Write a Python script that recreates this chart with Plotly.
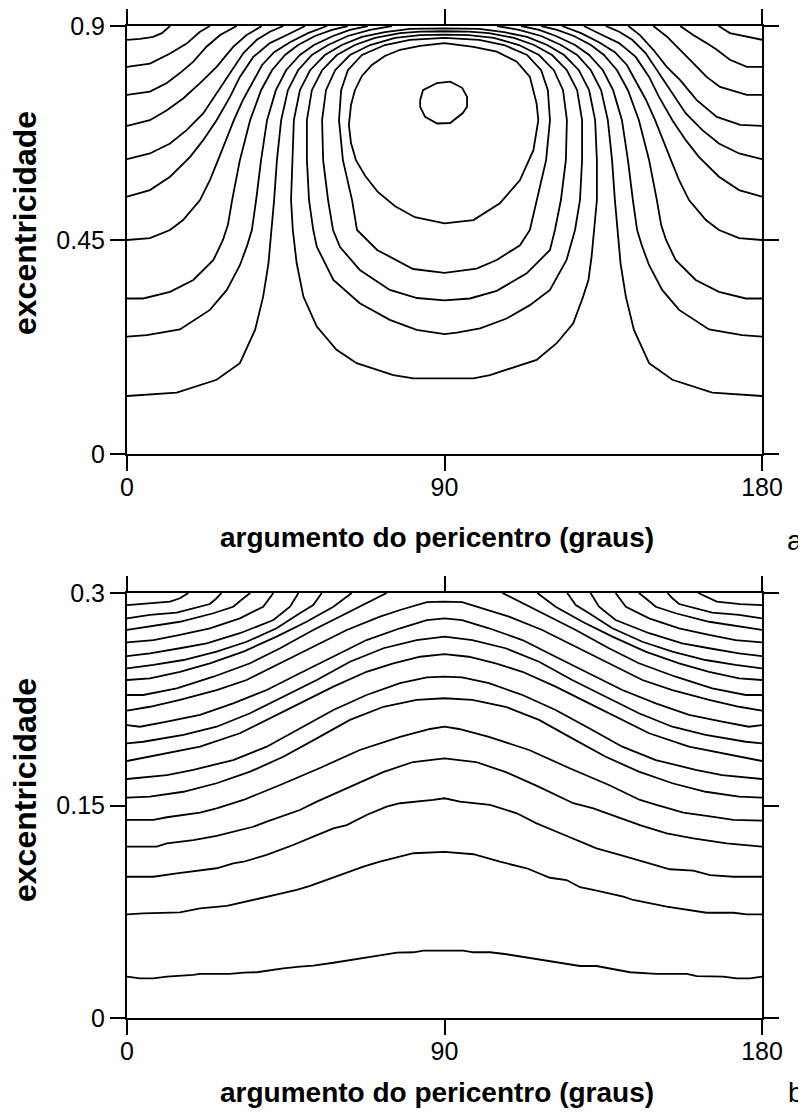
import plotly.graph_objects as go

# ================= Panel a  (x: argumento do pericentro [graus], e: excentricidade) =================
# open lines entering from the left axis and leaving through the top edge
a_l1_x = [0, 3.7, 7.4, 9.9, 12.2]
a_l1_e = [0.871, 0.873, 0.877, 0.885, 0.9]
a_l2_x = [0, 6.5, 12.2, 16.9, 20.7, 23.5]
a_l2_e = [0.814, 0.821, 0.842, 0.863, 0.888, 0.9]
a_l3_x = [0, 6.5, 11.3, 15.0, 18.8, 22.6, 26.4, 31.1]
a_l3_e = [0.755, 0.762, 0.780, 0.801, 0.825, 0.857, 0.881, 0.9]
a_l4_x = [0, 6.5, 11.3, 16.0, 20.7, 25.4, 30.1, 33.9, 38.2]
a_l4_e = [0.690, 0.702, 0.723, 0.748, 0.780, 0.814, 0.856, 0.881, 0.9]
a_l5_x = [0, 6.5, 12.2, 16.9, 21.6, 25.4, 29.2, 33.0, 36.8, 40.5, 44.3]
a_l5_e = [0.620, 0.632, 0.653, 0.681, 0.716, 0.759, 0.801, 0.843, 0.871, 0.888, 0.9]
a_l6_x = [0, 6.5, 12.2, 17.9, 21.6, 25.4, 29.2, 32.0, 35.8, 40.5, 45.3, 50.5]
a_l6_e = [0.541, 0.555, 0.583, 0.625, 0.660, 0.702, 0.751, 0.793, 0.835, 0.864, 0.881, 0.9]
a_l7_x = [0, 6.5, 12.2, 15.9, 20.7, 23.5, 25.8, 28.1, 30.3, 32.9, 36.0, 38.3, 41.7, 46.2, 51.3, 56.7]
a_l7_e = [0.450, 0.454, 0.471, 0.492, 0.534, 0.576, 0.618, 0.660, 0.702, 0.745, 0.786, 0.818, 0.845, 0.866, 0.885, 0.9]
a_l8_x = [0, 4.6, 12.2, 18.8, 24.5, 27.2, 28.6, 29.8, 32.0, 34.9, 38.0, 41.1, 44.8, 48.5, 53.3, 58.1, 62.6]
a_l8_e = [0.327, 0.327, 0.341, 0.366, 0.408, 0.450, 0.482, 0.534, 0.618, 0.702, 0.765, 0.807, 0.839, 0.860, 0.879, 0.892, 0.9]
a_l9_x = [0, 5.6, 15.0, 23.5, 28.3, 32.0, 34.0, 35.4, 36.6, 38.0, 39.7, 42.2, 45.1, 49.0, 53.0, 58.4, 63.2, 68.3]
a_l9_e = [0.247, 0.250, 0.262, 0.303, 0.345, 0.397, 0.437, 0.471, 0.534, 0.618, 0.702, 0.765, 0.807, 0.839, 0.860, 0.879, 0.892, 0.9]
a_l10_x = [0, 14.1, 25.4, 32.0, 36.3, 38.6, 40.1, 41.0, 41.7, 42.5, 43.7, 45.6, 48.5, 52.4, 57.0, 62.6, 68.9, 75.1]
a_l10_e = [0.122, 0.129, 0.156, 0.191, 0.261, 0.331, 0.401, 0.471, 0.534, 0.618, 0.702, 0.765, 0.807, 0.839, 0.860, 0.879, 0.892, 0.9]

# open lines entering from the right axis and leaving through the top edge
a_r1_x = [180, 175.7, 170.9, 167.7]
a_r1_e = [0.871, 0.877, 0.885, 0.9]
a_r2_x = [180, 175.7, 170.9, 167.2, 164.3, 160.5, 156.8]
a_r2_e = [0.814, 0.814, 0.829, 0.850, 0.864, 0.881, 0.9]
a_r3_x = [180, 175.7, 168.1, 164.3, 160.5, 156.8, 153.0, 149.2]
a_r3_e = [0.755, 0.755, 0.772, 0.793, 0.822, 0.850, 0.878, 0.9]
a_r4_x = [180, 173.8, 167.2, 161.5, 156.8, 153.0, 149.2, 145.4, 142.1]
a_r4_e = [0.690, 0.692, 0.709, 0.744, 0.786, 0.814, 0.850, 0.881, 0.9]
a_r5_x = [180, 173.5, 167.8, 163.1, 158.4, 154.6, 150.8, 147.0, 143.2, 139.5, 135.7]
a_r5_e = [0.620, 0.632, 0.653, 0.681, 0.716, 0.759, 0.801, 0.843, 0.871, 0.888, 0.9]
a_r6_x = [180, 173.5, 167.8, 162.1, 158.4, 154.6, 150.8, 148.0, 144.2, 139.5, 134.7, 129.5]
a_r6_e = [0.541, 0.555, 0.583, 0.625, 0.660, 0.702, 0.751, 0.793, 0.835, 0.864, 0.881, 0.9]
a_r7_x = [180, 173.5, 167.8, 164.1, 159.3, 156.5, 154.2, 151.9, 149.7, 147.1, 144.0, 141.7, 138.3, 133.8, 128.7, 123.3]
a_r7_e = [0.450, 0.454, 0.471, 0.492, 0.534, 0.576, 0.618, 0.660, 0.702, 0.745, 0.786, 0.818, 0.845, 0.866, 0.885, 0.9]
a_r8_x = [180, 175.4, 167.8, 161.2, 155.5, 152.8, 151.4, 150.2, 148.0, 145.1, 142.0, 138.9, 135.2, 131.5, 126.7, 121.9, 117.4]
a_r8_e = [0.327, 0.327, 0.341, 0.366, 0.408, 0.450, 0.482, 0.534, 0.618, 0.702, 0.765, 0.807, 0.839, 0.860, 0.879, 0.892, 0.9]
a_r9_x = [180, 174.4, 165.0, 156.5, 151.7, 148.0, 146.0, 144.6, 143.4, 142.0, 140.3, 137.8, 134.9, 131.0, 127.0, 121.6, 116.8, 111.7]
a_r9_e = [0.247, 0.250, 0.262, 0.303, 0.345, 0.397, 0.437, 0.471, 0.534, 0.618, 0.702, 0.765, 0.807, 0.839, 0.860, 0.879, 0.892, 0.9]
a_r10_x = [180, 165.9, 154.6, 148.0, 143.7, 141.4, 139.9, 139.0, 138.3, 137.5, 136.3, 134.4, 131.5, 127.6, 123.0, 117.4, 111.1, 104.9]
a_r10_e = [0.122, 0.129, 0.156, 0.191, 0.261, 0.331, 0.401, 0.471, 0.534, 0.618, 0.702, 0.765, 0.807, 0.839, 0.860, 0.879, 0.892, 0.9]

# closed curves around the central maximum (outermost first)
a_c1_x = [90, 80.2, 73.1, 66.6, 60.9, 56.1, 51.9, 49.0, 47.3, 46.8, 46.5, 47.0, 48.1, 50.0, 53.8, 59.4, 65.1, 75.5, 81.2,
          90, 98.2, 102.9, 110.5, 116.1, 121.8, 126.5, 129.3, 130.8, 131.7, 132.4, 133.2, 133.2, 132.7, 131.0, 128.1,
          123.9, 119.1, 113.4, 106.9, 99.8, 90]
a_c1_e = [0.895, 0.894, 0.887, 0.877, 0.860, 0.839, 0.807, 0.765, 0.702, 0.618, 0.534, 0.471, 0.401, 0.331, 0.268, 0.219,
          0.191, 0.166, 0.159, 0.159, 0.159, 0.166, 0.184, 0.198, 0.233, 0.275, 0.331, 0.366, 0.415, 0.471, 0.534,
          0.618, 0.702, 0.765, 0.807, 0.839, 0.860, 0.877, 0.887, 0.894, 0.895]
a_c2_x = [90, 83.1, 77.4, 70.3, 64.6, 59.5, 55.3, 52.4, 51.0, 51.0, 51.6, 52.8, 53.8, 58.5, 66.0, 74.5, 82.1,
          90, 93.5, 100.1, 107.6, 114.2, 119.9, 124.6, 127.0, 128.4, 129.0, 129.0, 127.6, 124.7, 120.5, 115.4,
          109.7, 102.6, 96.9, 90]
a_c2_e = [0.889, 0.888, 0.885, 0.875, 0.860, 0.839, 0.807, 0.765, 0.702, 0.618, 0.534, 0.471, 0.436, 0.366, 0.317,
          0.282, 0.261, 0.252, 0.255, 0.264, 0.285, 0.313, 0.345, 0.408, 0.471, 0.534, 0.618, 0.702, 0.765, 0.807,
          0.839, 0.860, 0.875, 0.885, 0.888, 0.889]
a_c3_x = [90, 83.1, 76.0, 68.9, 63.2, 59.0, 56.4, 55.3, 55.6, 57.0, 58.4, 60.4, 66.0, 74.5, 82.2,
          90, 97.2, 104.8, 113.3, 119.9, 121.3, 123.0, 124.4, 124.7, 123.6, 121.0, 116.8, 111.1, 104.0, 96.9, 90]
a_c3_e = [0.882, 0.881, 0.875, 0.860, 0.839, 0.807, 0.765, 0.702, 0.618, 0.534, 0.471, 0.435, 0.387, 0.345, 0.328,
          0.323, 0.327, 0.343, 0.380, 0.429, 0.471, 0.534, 0.618, 0.702, 0.765, 0.807, 0.839, 0.860, 0.875, 0.881, 0.882]
a_c4_x = [90, 80.2, 73.1, 66.6, 62.6, 60.7, 60.1, 61.2, 63.8, 65.2, 70.9, 81.1,
          90, 99.1, 104.8, 111.4, 114.2, 116.2, 118.8, 119.9, 119.3, 117.4, 113.4, 106.9, 99.8, 90]
a_c4_e = [0.875, 0.871, 0.860, 0.839, 0.807, 0.765, 0.702, 0.618, 0.534, 0.471, 0.429, 0.389,
          0.381, 0.390, 0.408, 0.439, 0.471, 0.534, 0.618, 0.702, 0.765, 0.807, 0.839, 0.860, 0.871, 0.875]
a_c5_x = [90, 83.1, 77.4, 73.1, 69.4, 66.6, 64.6, 63.5, 62.9, 63.5, 64.9, 67.5, 71.1, 76.0, 81.6,
          90, 98.2, 105.7, 111.4, 115.2, 116.6, 116.1, 114.2, 110.5, 104.8, 98.2, 90]
a_c5_e = [0.864, 0.858, 0.850, 0.837, 0.818, 0.795, 0.765, 0.734, 0.692, 0.654, 0.618, 0.585, 0.551, 0.521, 0.498,
          0.485, 0.492, 0.527, 0.576, 0.639, 0.702, 0.737, 0.793, 0.825, 0.846, 0.856, 0.864]
a_c6_x = [83.1, 83.9, 87.9, 91.6, 95.0, 96.4, 96.4, 95.2, 91.6, 87.9, 84.5, 83.1, 83.1]
a_c6_e = [0.744, 0.765, 0.780, 0.783, 0.770, 0.751, 0.730, 0.717, 0.696, 0.695, 0.709, 0.730, 0.744]

# ================= Panel b =================
# lines leaving through the top edge (left side)
b_t1_x = [0, 6.5, 12.2, 15.0, 17.4]
b_t1_e = [0.2915, 0.2927, 0.2939, 0.2963, 0.3]
b_t2_x = [0, 6.5, 14.1, 18.8, 23.5, 25.4, 26.8]
b_t2_e = [0.2821, 0.2845, 0.2861, 0.2892, 0.2922, 0.2963, 0.3]
b_t3_x = [0, 6.5, 15.0, 24.5, 30.1, 33.0, 34.9]
b_t3_e = [0.2739, 0.2762, 0.2797, 0.2857, 0.2903, 0.2963, 0.3]
b_t4_x = [0, 7.5, 15.0, 23.5, 32.0, 38.6, 41.5]
b_t4_e = [0.2652, 0.2668, 0.2704, 0.2751, 0.2821, 0.2903, 0.3]
b_t5_x = [0, 6.5, 15.0, 22.6, 32.0, 41.5, 46.2, 48.6]
b_t5_e = [0.2555, 0.2574, 0.2610, 0.2645, 0.2716, 0.2809, 0.2903, 0.3]
b_t6_x = [0, 7.5, 16.0, 25.4, 33.9, 42.4, 49.0, 52.8, 55.2]
b_t6_e = [0.2468, 0.2492, 0.2527, 0.2586, 0.2656, 0.2751, 0.2857, 0.2915, 0.3]
b_t7_x = [0, 6.5, 15.0, 23.5, 33.0, 42.4, 50.9, 58.5, 63.7]
b_t7_e = [0.2386, 0.2398, 0.2444, 0.2504, 0.2586, 0.2692, 0.2797, 0.2903, 0.3]
b_t8_x = [0, 4.6, 14.1, 24.5, 34.9, 43.4, 52.8, 62.3, 67.9, 73.6]
b_t8_e = [0.2280, 0.2280, 0.2327, 0.2409, 0.2504, 0.2610, 0.2739, 0.2857, 0.2927, 0.3]
# lines leaving through the top edge (right side)
b_u1_x = [180, 173.8, 167.2, 161.9]
b_u1_e = [0.2915, 0.2922, 0.2939, 0.3]
b_u2_x = [180, 173.5, 165.9, 161.2, 156.5, 154.6, 153.2]
b_u2_e = [0.2821, 0.2845, 0.2861, 0.2892, 0.2922, 0.2963, 0.3]
b_u3_x = [180, 173.5, 165.0, 155.5, 149.9, 147.0, 145.1]
b_u3_e = [0.2739, 0.2762, 0.2797, 0.2857, 0.2903, 0.2963, 0.3]
b_u4_x = [180, 172.5, 165.0, 156.5, 148.0, 141.4, 138.5]
b_u4_e = [0.2652, 0.2668, 0.2704, 0.2751, 0.2821, 0.2903, 0.3]
b_u5_x = [180, 173.5, 165.0, 157.4, 148.0, 138.5, 133.8, 131.4]
b_u5_e = [0.2555, 0.2574, 0.2610, 0.2645, 0.2716, 0.2809, 0.2903, 0.3]
b_u6_x = [180, 172.5, 164.0, 154.6, 146.1, 137.6, 131.0, 127.2, 124.8]
b_u6_e = [0.2468, 0.2492, 0.2527, 0.2586, 0.2656, 0.2751, 0.2857, 0.2915, 0.3]
b_u7_x = [180, 173.5, 165.0, 156.5, 147.0, 137.6, 129.1, 121.5, 116.3]
b_u7_e = [0.2386, 0.2398, 0.2444, 0.2504, 0.2586, 0.2692, 0.2797, 0.2903, 0.3]
b_u8_x = [180, 175.4, 165.9, 155.5, 145.1, 136.6, 127.2, 117.7, 112.1, 106.4]
b_u8_e = [0.2280, 0.2280, 0.2327, 0.2409, 0.2504, 0.2610, 0.2739, 0.2857, 0.2927, 0.3]
# arches running from the left axis to the right axis (top to bottom)
b_a1_x = [0, 6.5, 15.0, 25.4, 33.9, 43.4, 52.8, 62.3, 71.7, 77.4, 85.0, 90, 95.0, 102.6, 108.3, 117.7, 127.2, 136.6, 146.1, 154.6, 165.0, 173.5, 180]
b_a1_e = [0.2169, 0.2197, 0.2245, 0.2315, 0.2386, 0.2504, 0.2621, 0.2739, 0.2833, 0.2880, 0.2936, 0.2939, 0.2936, 0.2880, 0.2833, 0.2739, 0.2621, 0.2504, 0.2386, 0.2315, 0.2245, 0.2197, 0.2169]
b_a2_x = [0, 3.7, 11.3, 20.7, 30.1, 39.6, 49.0, 58.5, 67.9, 77.4, 85.0, 90, 95.0, 102.6, 112.1, 121.5, 131.0, 140.4, 149.9, 159.3, 168.7, 176.3, 180]
b_a2_e = [0.2068, 0.2056, 0.2092, 0.2139, 0.2221, 0.2315, 0.2433, 0.2550, 0.2668, 0.2751, 0.2809, 0.2821, 0.2809, 0.2751, 0.2668, 0.2550, 0.2433, 0.2315, 0.2221, 0.2139, 0.2092, 0.2056, 0.2068]
b_a3_x = [0, 4.6, 16.0, 25.4, 34.9, 44.3, 53.8, 63.2, 72.7, 82.1, 90, 97.9, 107.3, 116.8, 126.2, 135.7, 145.1, 154.6, 164.0, 175.4, 180]
b_a3_e = [0.1939, 0.1950, 0.1998, 0.2056, 0.2151, 0.2268, 0.2386, 0.2515, 0.2610, 0.2668, 0.2692, 0.2668, 0.2610, 0.2515, 0.2386, 0.2268, 0.2151, 0.2056, 0.1998, 0.1950, 0.1939]
b_a4_x = [0, 11.3, 20.7, 32.0, 39.6, 49.0, 58.5, 67.9, 75.5, 83.1, 90, 96.9, 104.5, 112.1, 121.5, 131.0, 140.4, 148.0, 159.3, 168.7, 180]
b_a4_e = [0.1814, 0.1868, 0.1915, 0.2010, 0.2104, 0.2221, 0.2339, 0.2444, 0.2504, 0.2550, 0.2569, 0.2550, 0.2504, 0.2444, 0.2339, 0.2221, 0.2104, 0.2010, 0.1915, 0.1868, 0.1814]
b_a5_x = [0, 11.3, 18.8, 30.1, 39.6, 49.0, 58.5, 67.9, 77.4, 85.0, 90, 95.0, 102.6, 112.1, 121.5, 131.0, 140.4, 149.9, 161.2, 168.7, 180]
b_a5_e = [0.1687, 0.1715, 0.1751, 0.1821, 0.1915, 0.2045, 0.2174, 0.2280, 0.2363, 0.2405, 0.2409, 0.2405, 0.2363, 0.2280, 0.2174, 0.2045, 0.1915, 0.1821, 0.1751, 0.1715, 0.1687]
b_a6_x = [0, 6.5, 16.0, 25.4, 34.9, 44.3, 53.8, 63.2, 72.7, 82.1, 90, 97.9, 107.3, 116.8, 126.2, 135.7, 145.1, 154.6, 164.0, 173.5, 180]
b_a6_e = [0.1555, 0.1562, 0.1597, 0.1657, 0.1739, 0.1844, 0.1974, 0.2104, 0.2197, 0.2245, 0.2257, 0.2245, 0.2197, 0.2104, 0.1974, 0.1844, 0.1739, 0.1657, 0.1597, 0.1562, 0.1555]
b_a7_x = [0, 7.5, 11.3, 20.7, 25.4, 33.0, 43.4, 54.7, 66.0, 77.4, 85.9, 90, 94.1, 102.6, 114.0, 125.3, 136.6, 145.4, 150.1, 157.7, 164.3, 171.9, 180]
b_a7_e = [0.1398, 0.1398, 0.1417, 0.1449, 0.1480, 0.1539, 0.1645, 0.1765, 0.1892, 0.1984, 0.2040, 0.2056, 0.2040, 0.1984, 0.1892, 0.1765, 0.1645, 0.1539, 0.1504, 0.1449, 0.1426, 0.1398, 0.1393]
b_a8_x = [0, 8.4, 11.3, 18.8, 25.4, 30.1, 35.8, 39.6, 45.3, 49.0, 53.8, 63.2, 72.6, 81.1, 90, 98.9, 107.4, 116.8, 124.6, 126.5, 132.2, 139.7, 145.4, 153.0, 160.5, 170.0, 180]
b_a8_e = [0.1209, 0.1209, 0.1233, 0.1256, 0.1285, 0.1315, 0.1350, 0.1386, 0.1433, 0.1468, 0.1527, 0.1631, 0.1736, 0.1807, 0.1833, 0.1807, 0.1736, 0.1631, 0.1539, 0.1516, 0.1480, 0.1410, 0.1362, 0.1304, 0.1268, 0.1233, 0.1209]
b_a9_x = [0, 7.5, 14.1, 19.8, 25.4, 30.1, 33.0, 39.6, 47.1, 52.8, 58.5, 62.3, 67.9, 73.6, 77.4, 86.8, 90, 94.4, 102.9, 110.5, 116.1, 121.8, 128.4, 133.1, 139.7, 146.4, 153.9, 160.5, 165.3, 171.9, 180]
b_a9_e = [0.0997, 0.0997, 0.1021, 0.1040, 0.1057, 0.1092, 0.1103, 0.1151, 0.1221, 0.1280, 0.1339, 0.1362, 0.1433, 0.1492, 0.1516, 0.1539, 0.1551, 0.1527, 0.1504, 0.1445, 0.1374, 0.1315, 0.1244, 0.1198, 0.1151, 0.1103, 0.1050, 0.1040, 0.1009, 0.0997, 0.0997]
b_a10_x = [0, 4.6, 15.0, 20.7, 28.3, 35.8, 41.5, 48.1, 51.9, 56.6, 62.3, 67.0, 71.7, 77.4, 81.2, 90, 98.2, 105.7, 113.3, 119.9, 124.6, 128.4, 132.2, 140.7, 143.5, 153.0, 164.3, 171.9, 175.7, 180]
b_a10_e = [0.0732, 0.0739, 0.0746, 0.0774, 0.0791, 0.0833, 0.0868, 0.0904, 0.0932, 0.0974, 0.1021, 0.1068, 0.1103, 0.1139, 0.1163, 0.1172, 0.1156, 0.1103, 0.1057, 0.0990, 0.0974, 0.0923, 0.0904, 0.0856, 0.0833, 0.0786, 0.0743, 0.0743, 0.0732, 0.0732]
b_a11_x = [0, 3.7, 7.5, 11.3, 18.8, 20.7, 29.2, 33.0, 36.8, 44.3, 49.0, 52.8, 58.5, 64.1, 70.8, 76.5, 81.2, 84.0, 90, 95.3, 98.2, 102.9, 107.6, 113.3, 121.8, 128.4, 133.1, 142.6, 150.1, 158.7, 161.5, 169.0, 172.8, 176.6, 180]
b_a11_e = [0.0292, 0.0280, 0.0280, 0.0292, 0.0304, 0.0311, 0.0311, 0.0320, 0.0323, 0.0351, 0.0362, 0.0369, 0.0390, 0.0414, 0.0438, 0.0461, 0.0464, 0.0475, 0.0475, 0.0475, 0.0464, 0.0464, 0.0450, 0.0426, 0.0390, 0.0367, 0.0367, 0.0323, 0.0311, 0.0311, 0.0296, 0.0292, 0.0280, 0.0280, 0.0292]

# axis ticks and labels
x_ticks = [0, 90, 180]
x_ticktext = ["0", "90", "180"]
a_y_ticks = [0, 0.45, 0.9]
a_y_ticktext = ["0", "0.45", "0.9"]
b_y_ticks = [0, 0.15, 0.3]
b_y_ticktext = ["0", "0.15", "0.3"]
x_title = "argumento do pericentro (graus)"
y_title = "excentricidade"

panel_a = [
    (a_l1_x, a_l1_e), (a_l2_x, a_l2_e), (a_l3_x, a_l3_e), (a_l4_x, a_l4_e), (a_l5_x, a_l5_e),
    (a_l6_x, a_l6_e), (a_l7_x, a_l7_e), (a_l8_x, a_l8_e), (a_l9_x, a_l9_e), (a_l10_x, a_l10_e),
    (a_r1_x, a_r1_e), (a_r2_x, a_r2_e), (a_r3_x, a_r3_e), (a_r4_x, a_r4_e), (a_r5_x, a_r5_e),
    (a_r6_x, a_r6_e), (a_r7_x, a_r7_e), (a_r8_x, a_r8_e), (a_r9_x, a_r9_e), (a_r10_x, a_r10_e),
    (a_c1_x, a_c1_e), (a_c2_x, a_c2_e), (a_c3_x, a_c3_e), (a_c4_x, a_c4_e), (a_c5_x, a_c5_e),
    (a_c6_x, a_c6_e),
]
panel_b = [
    (b_t1_x, b_t1_e), (b_t2_x, b_t2_e), (b_t3_x, b_t3_e), (b_t4_x, b_t4_e),
    (b_t5_x, b_t5_e), (b_t6_x, b_t6_e), (b_t7_x, b_t7_e), (b_t8_x, b_t8_e),
    (b_u1_x, b_u1_e), (b_u2_x, b_u2_e), (b_u3_x, b_u3_e), (b_u4_x, b_u4_e),
    (b_u5_x, b_u5_e), (b_u6_x, b_u6_e), (b_u7_x, b_u7_e), (b_u8_x, b_u8_e),
    (b_a1_x, b_a1_e), (b_a2_x, b_a2_e), (b_a3_x, b_a3_e), (b_a4_x, b_a4_e), (b_a5_x, b_a5_e),
    (b_a6_x, b_a6_e), (b_a7_x, b_a7_e), (b_a8_x, b_a8_e), (b_a9_x, b_a9_e), (b_a10_x, b_a10_e),
    (b_a11_x, b_a11_e),
]

# The page body has an 8 px margin, so the figure is drawn 8 px in from the window corner.
OFF = 8
W, H = 806 - OFF, 1117 - OFF
FONT = "Liberation Sans, Arial, Helvetica, sans-serif"
LINE = dict(color="black", width=1.8)


def px(v):
    return (v - OFF) / W


def py(v):
    return 1 - (v - OFF) / H


fig = go.Figure()
for xs, es in panel_a:
    n = min(len(xs), len(es))
    fig.add_trace(go.Scatter(x=xs[:n], y=es[:n], mode="lines", line=LINE,
                             xaxis="x", yaxis="y", hoverinfo="skip", showlegend=False))
for xs, es in panel_b:
    n = min(len(xs), len(es))
    fig.add_trace(go.Scatter(x=xs[:n], y=es[:n], mode="lines", line=LINE,
                             xaxis="x2", yaxis="y2", hoverinfo="skip", showlegend=False))

x_dom = [px(127), px(762)]
a_dom = [py(454), py(26)]
b_dom = [py(1018), py(593)]

axis_common = dict(showline=True, linecolor="black", linewidth=2, mirror="ticks",
                   ticks="outside", ticklen=15, tickwidth=2, tickcolor="black",
                   showgrid=False, zeroline=False, fixedrange=True, automargin=False,
                   tickfont=dict(family=FONT, size=25, color="black"))

fig.update_layout(
    width=W, height=H, autosize=False,
    margin=dict(l=0, r=0, t=0, b=0, pad=0, autoexpand=False),
    paper_bgcolor="white", plot_bgcolor="white",
    showlegend=False,
    xaxis=dict(domain=x_dom, range=[0, 180], anchor="y", tickmode="array", ticklabelstandoff=-5,
               tickvals=x_ticks, ticktext=x_ticktext, **axis_common),
    yaxis=dict(domain=a_dom, range=[0, 0.9], anchor="x", tickmode="array",
               tickvals=a_y_ticks, ticktext=a_y_ticktext, **axis_common),
    xaxis2=dict(domain=x_dom, range=[0, 180], anchor="y2", tickmode="array", ticklabelstandoff=-5,
                tickvals=x_ticks, ticktext=x_ticktext, **axis_common),
    yaxis2=dict(domain=b_dom, range=[0, 0.3], anchor="x2", tickmode="array",
                tickvals=b_y_ticks, ticktext=b_y_ticktext, **axis_common),
)

title_font = dict(family=FONT, size=28, color="black")
ytitle_font = dict(family=FONT, size=32, color="black")
label_font = dict(family=FONT, size=28, color="black")
ann = [
    dict(text="<b>" + x_title + "</b>", x=px(437), y=py(537), font=title_font),
    dict(text="<b>" + x_title + "</b>", x=px(437), y=py(1092), font=title_font),
    dict(text="<b>" + y_title + "</b>", x=px(25), y=py(223), textangle=-90, font=ytitle_font),
    dict(text="<b>" + y_title + "</b>", x=px(25), y=py(790), textangle=-90, font=ytitle_font),
    dict(text="a", x=px(795), y=py(540), font=label_font),
    dict(text="b", x=px(796), y=py(1092), font=label_font),
]
for a in ann:
    fig.add_annotation(xref="paper", yref="paper", xanchor="center", yanchor="middle",
                       showarrow=False, **a)

fig.write_html("out.html", config={"responsive": False})
